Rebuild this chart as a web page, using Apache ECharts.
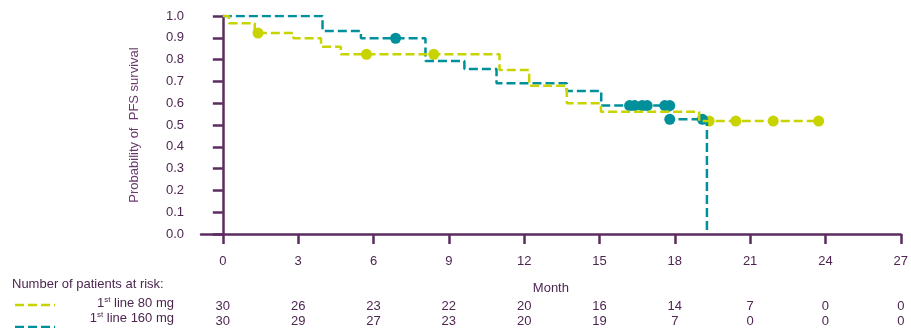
<!DOCTYPE html>
<html>
<head>
<meta charset="utf-8">
<script src="https://cdn.jsdelivr.net/npm/echarts@6/dist/echarts.min.js"></script>
<style>
  html, body { margin: 0; padding: 0; background: #fff; }
  #chart { width: 911px; height: 328px; }
</style>
</head>
<body>
<div id="chart"></div>
<script>
// 数据
const monthTicks = [0, 3, 6, 9, 12, 15, 18, 21, 24, 27]
const riskLow = [30, 26, 23, 22, 20, 16, 14, 7, 0, 0]   // 1st line 80 mg
const riskHigh = [30, 29, 27, 23, 20, 19, 7, 0, 0, 0]   // 1st line 160 mg

// KM 曲线 [月, 概率]
const kmLow = [[0, 1], [0.24, 0.967], [1.27, 0.922], [2.81, 0.898], [3.91, 0.859], [4.7, 0.824],
  [11.02, 0.752], [12.2, 0.68], [13.7, 0.6], [15.06, 0.561], [18.97, 0.518], [23.73, 0.518]]
const kmHigh = [[0, 1], [3.97, 0.931], [5.5, 0.898], [8.07, 0.794], [9.62, 0.757], [10.9, 0.691],
  [13.7, 0.656], [15.07, 0.589], [17.78, 0.526], [19.28, 0]]

// 删失点
const censorLow = [[1.4, 0.922], [5.72, 0.824], [8.4, 0.824], [19.37, 0.518], [20.43, 0.518], [21.92, 0.518], [23.73, 0.518]]
const censorHigh = [[6.88, 0.898], [16.2, 0.589], [16.4, 0.589], [16.7, 0.589], [16.9, 0.589],
  [17.6, 0.589], [17.8, 0.589], [17.8, 0.526], [19.1, 0.526]]

const lime = '#c8d400'
const teal = '#00909b'
const axisColor = '#5b2c5f'
const textColor = '#4d2650'
const font = 'Liberation Sans, Arial, sans-serif'

const xMin = -0.87, xMax = 27

// 风险人数行用隐藏的 x 轴画
const riskAxis = (arr, margin) => ({
  type: 'value', min: xMin, max: xMax, gridIndex: 0, position: 'bottom',
  axisLine: { show: false }, axisTick: { show: false }, splitLine: { show: false },
  axisLabel: {
    customValues: monthTicks, margin: margin, color: textColor, fontSize: 13, fontFamily: font,
    formatter: v => arr[monthTicks.indexOf(Math.round(v))]
  }
})

const supRich = {
  a: { font: '13px ' + font, fill: textColor },
  s: { font: '8px ' + font, fill: textColor, verticalAlign: 'top', padding: [0, 0, 6, 0] }
}

const chart = echarts.init(document.getElementById('chart'))
chart.setOption({
  animation: false,
  grid: { left: 201, right: 6, top: 16, bottom: 94 },
  xAxis: [
    {
      type: 'value', min: xMin, max: xMax,
      name: 'Month', nameLocation: 'middle', nameGap: 48,
      nameTextStyle: { color: textColor, fontSize: 13, fontFamily: font },
      axisLine: { lineStyle: { color: axisColor, width: 2.5 } },
      axisTick: { customValues: monthTicks, length: 10, lineStyle: { color: axisColor, width: 2.5 } },
      axisLabel: { customValues: monthTicks, margin: 21, color: textColor, fontSize: 13, fontFamily: font },
      splitLine: { show: false }
    },
    riskAxis(riskLow, 66),
    riskAxis(riskHigh, 81)
  ],
  yAxis: {
    type: 'value', min: 0, max: 1, interval: 0.1,
    name: 'Probability of  PFS survival', nameLocation: 'middle', nameGap: 60,
    nameTextStyle: { color: '#6a3a6d', fontSize: 13, fontFamily: font },
    axisLine: { show: true, lineStyle: { color: axisColor, width: 2.5 } },
    axisTick: { show: true, length: 10, lineStyle: { color: axisColor, width: 2.5 } },
    axisLabel: { margin: 17, color: textColor, fontSize: 13, fontFamily: font, formatter: v => v.toFixed(1) },
    splitLine: { show: false }
  },
  series: [
    {
      type: 'line', step: 'end', data: kmHigh, showSymbol: false, silent: true,
      lineStyle: { color: teal, width: 2.5, type: [9, 4] }
    },
    {
      type: 'line', step: 'end', data: kmLow, showSymbol: false, silent: true,
      lineStyle: { color: lime, width: 2.5, type: [9, 4] }
    },
    { type: 'scatter', data: censorLow, symbolSize: 11, itemStyle: { color: lime, opacity: 1 } },
    { type: 'scatter', data: censorHigh, symbolSize: 11, itemStyle: { color: teal, opacity: 1 } }
  ],
  graphic: [
    { type: 'text', left: 12, top: 278, style: { text: 'Number of patients at risk:', fill: textColor, font: '13px ' + font } },
    { type: 'text', right: 911 - 174, top: 296, style: { text: '{a|1}{s|st}{a| line 80 mg}', fill: textColor, rich: supRich } },
    { type: 'text', right: 911 - 174, top: 311, style: { text: '{a|1}{s|st}{a| line 160 mg}', fill: textColor, rich: supRich } },
    { type: 'line', shape: { x1: 15, y1: 305, x2: 55, y2: 305 }, style: { stroke: lime, lineWidth: 2.5, lineDash: [9, 4] } },
    { type: 'line', shape: { x1: 15, y1: 327, x2: 55, y2: 327 }, style: { stroke: teal, lineWidth: 2.5, lineDash: [9, 4] } }
  ]
})
</script>
</body>
</html>
